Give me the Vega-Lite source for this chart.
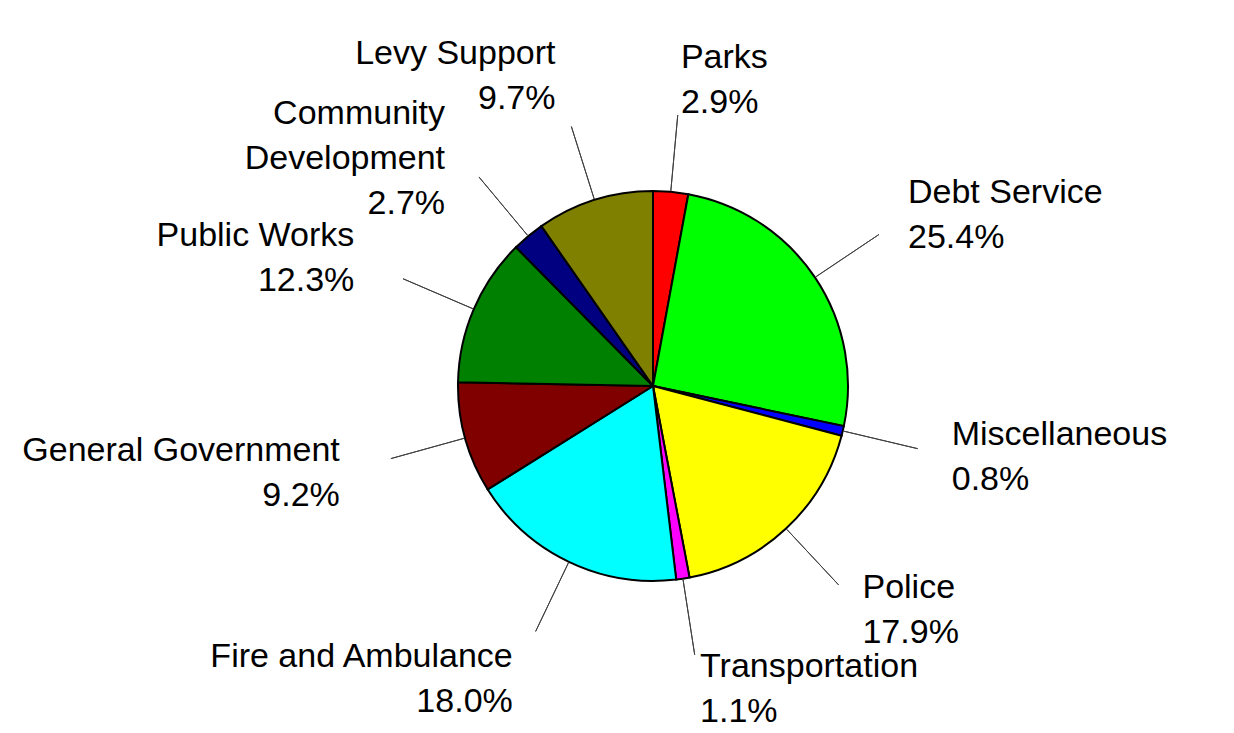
{
  "$schema": "https://vega.github.io/schema/vega-lite/v6.json",
  "width": 1162,
  "height": 694,
  "autosize": "none",
  "padding": {"left": 72, "top": 39, "right": 0, "bottom": 0},
  "background": "white",
  "config": {"view": {"stroke": null}},
  "data": {
    "values": [
      {"category": "Parks", "value": 2.9, "order": 1},
      {"category": "Debt Service", "value": 25.4, "order": 2},
      {"category": "Miscellaneous", "value": 0.8, "order": 3},
      {"category": "Police", "value": 17.9, "order": 4},
      {"category": "Transportation", "value": 1.1, "order": 5},
      {"category": "Fire and Ambulance", "value": 18.0, "order": 6},
      {"category": "General Government", "value": 9.2, "order": 7},
      {"category": "Public Works", "value": 12.3, "order": 8},
      {"category": "Community Development", "value": 2.7, "order": 9},
      {"category": "Levy Support", "value": 9.7, "order": 10}
    ]
  },
  "transform": [
    {"window": [{"op": "sum", "field": "value", "as": "cum"}], "sort": [{"field": "order"}], "frame": [null, 0]},
    {"calculate": "datum.cum - datum.value / 2", "as": "mid"},
    {"calculate": "(datum.category == 'Community Development' ? 'Community|Development' : datum.category) + '|' + format(datum.value, '.1f') + '%'", "as": "label"}
  ],
  "layer": [
    {
      "mark": {"type": "arc", "radius": 195, "stroke": "black", "strokeWidth": 2},
      "encoding": {
        "theta": {"field": "value", "type": "quantitative", "stack": true},
        "order": {"field": "order", "type": "quantitative"},
        "color": {
          "field": "category",
          "type": "nominal",
          "legend": null,
          "scale": {
            "domain": ["Parks", "Debt Service", "Miscellaneous", "Police", "Transportation", "Fire and Ambulance", "General Government", "Public Works", "Community Development", "Levy Support"],
            "range": ["#FF0000", "#00FF00", "#0000FF", "#FFFF00", "#FF00FF", "#00FFFF", "#800000", "#008000", "#000080", "#808000"]
          }
        }
      }
    },
    {
      "mark": {"type": "arc", "radius": 272, "radius2": 196, "stroke": "#404040", "strokeWidth": 1},
      "encoding": {
        "theta": {"field": "mid", "type": "quantitative", "stack": null},
        "theta2": {"field": "mid"}
      }
    },
    {
      "mark": {"type": "text", "radius": 307, "dy": -22, "align": "left", "baseline": "middle", "font": "Liberation Sans", "fontSize": 34, "lineHeight": 45, "lineBreak": "|", "color": "black"},
      "encoding": {
        "theta": {"field": "value", "type": "quantitative", "stack": true},
        "order": {"field": "order", "type": "quantitative"},
        "detail": {"field": "category", "type": "nominal"},
        "text": {"field": "label", "type": "nominal", "condition": {"test": "datum.mid >= 50", "value": ""}}
      }
    },
    {
      "mark": {"type": "text", "radius": 325, "dy": -22, "align": "right", "baseline": "middle", "font": "Liberation Sans", "fontSize": 34, "lineHeight": 45, "lineBreak": "|", "color": "black"},
      "encoding": {
        "theta": {"field": "value", "type": "quantitative", "stack": true},
        "order": {"field": "order", "type": "quantitative"},
        "detail": {"field": "category", "type": "nominal"},
        "text": {"field": "label", "type": "nominal", "condition": {"test": "datum.mid < 50", "value": ""}}
      }
    }
  ]
}
